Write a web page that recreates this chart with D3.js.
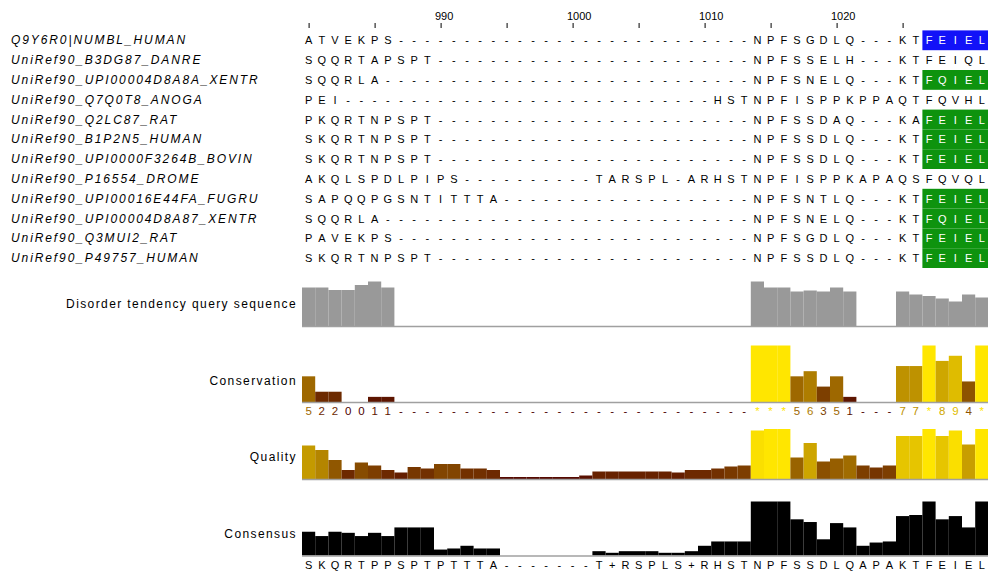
<!DOCTYPE html>
<html>
<head>
<meta charset="utf-8">
<script src="https://cdn.jsdelivr.net/npm/d3@7/dist/d3.min.js"></script>
<style>
  body { margin: 0; background: #fff; }
  svg { display: block; font-family: "Liberation Sans", Arial, sans-serif; }
</style>
</head>
<body>
<div id="aln"></div>
<script>
// alignment data, residues 980 - 1031
const startRes = 980;
const rulerTicks = [980, 985, 990, 995, 1000, 1005, 1010, 1015, 1020, 1025];
const rulerLabels = [990, 1000, 1010, 1020];

const names = [
  "Q9Y6R0|NUMBL_HUMAN",
  "UniRef90_B3DG87_DANRE",
  "UniRef90_UPI00004D8A8A_XENTR",
  "UniRef90_Q7Q0T8_ANOGA",
  "UniRef90_Q2LC87_RAT",
  "UniRef90_B1P2N5_HUMAN",
  "UniRef90_UPI0000F3264B_BOVIN",
  "UniRef90_P16554_DROME",
  "UniRef90_UPI00016E44FA_FUGRU",
  "UniRef90_UPI00004D8A87_XENTR",
  "UniRef90_Q3MUI2_RAT",
  "UniRef90_P49757_HUMAN"
];

const seqs = [
  "ATVEKPS" + "----------" + "----------" + "-------" + "NPFSGDLQ---KTFEIEL",
  "SQQRTAPSPT" + "----------" + "----------" + "----" + "NPFSSELH---KTFEIQL",
  "SQQRLA" + "----------" + "----------" + "--------" + "NPFSNELQ---KTFQIEL",
  "PEI" + "----------" + "----------" + "--------" + "HSTNPFISPPKPPAQTFQVHL",
  "PKQRTNPSPT" + "----------" + "----------" + "----" + "NPFSSDAQ---KAFEIEL",
  "SKQRTNPSPT" + "----------" + "----------" + "----" + "NPFSSDLQ---KTFEIEL",
  "SKQRTNPSPT" + "----------" + "----------" + "----" + "NPFSSDLQ---KTFEIEL",
  "AKQLSPDLPIPS" + "----------" + "TARSPL-ARHST" + "NPFISPPKAPAQSFQVQL",
  "SAPQQPGSNTITTTA" + "----------" + "---------" + "NPFSNTLQ---KTFEIEL",
  "SQQRLA" + "----------" + "----------" + "--------" + "NPFSNELQ---KTFQIEL",
  "PAVEKPS" + "----------" + "----------" + "-------" + "NPFSGDLQ---KTFEIEL",
  "SKQRTNPSPT" + "----------" + "----------" + "----" + "NPFSSDLQ---KTFEIEL"
];

// coloured block (residues 1027-1031) per row
const blockResidues = [1027, 1031];
const blockColour = ["#1212f8", null, "#0e930e", null, "#0e930e", "#0e930e",
                     "#0e930e", null, "#0e930e", "#0e930e", "#0e930e", "#0e930e"];

// annotation rows
const disorder = [0.77, 0.77, 0.72, 0.72, 0.82, 0.89, 0.77,
  null, null, null, null, null, null, null, null, null, null, null, null, null, null,
  null, null, null, null, null, null, null, null, null, null, null, null, null,
  0.89, 0.77, 0.77, 0.69, 0.71, 0.69, 0.77, 0.69,
  null, null, null,
  0.69, 0.63, 0.60, 0.55, 0.49, 0.63, 0.57];

const conservation = "5220011" + "----------" + "----------" + "-------" + "***56351---77*894*";

const quality = [67, 58, 38, 18, 33, 27, 18, 13, 24, 21, 30, 30, 21, 21, 18,
  4, 4, 4, 4, 4, 4, 7, 15, 15, 15, 15, 15, 15, 13, 18, 18, 21, 25, 27,
  97, 100, 100, 43, 72, 35, 41, 47, 27, 23, 27, 86, 86, 100, 86, 97, 69, 100];

const consensusSeq = "SKQRTPPSPTPTTTA" + "-------" + "T+RSPLS+RHST" + "NPFSSDLQAPAKTFEIEL";
const consensusPct = [44, 36, 44, 42, 36, 42, 36, 52, 52, 52, 11, 13, 18, 13, 13,
  0, 0, 0, 0, 0, 0, 0, 8, 5, 8, 8, 8, 5, 5, 8, 18, 26, 26, 26,
  100, 100, 100, 67, 62, 30, 60, 52, 18, 24, 26, 73, 75, 100, 67, 73, 52, 100];

const annLabels = ["Disorder tendency query sequence", "Conservation", "Quality", "Consensus"];

// layout
const width = 988, height = 574;
const nCols = seqs[0].length;
const colW = 13.2, alnLeft = 302;

const svg = d3.select("#aln").append("svg")
  .attr("width", width).attr("height", height)
  .attr("viewBox", [0, 0, width, height]);

const x = d3.scaleBand().domain(d3.range(nCols)).range([alnLeft, alnLeft + nCols * colW]);
const cx = i => x(i) + x.bandwidth() / 2;
const y = d3.scaleBand().domain(d3.range(names.length)).range([30.4, 30.4 + names.length * 19.8]);

// ruler
const res = d3.scaleLinear().domain([startRes, startRes + nCols - 1]).range([cx(0), cx(nCols - 1)]);
const ruler = svg.append("g")
  .attr("transform", "translate(0,28)")
  .call(d3.axisTop(res).tickValues(rulerTicks).tickSize(5).tickPadding(3)
    .tickFormat(d => rulerLabels.includes(d) ? d : ""));
ruler.select(".domain").remove();
ruler.selectAll(".tick line").attr("stroke", "#000");
ruler.selectAll(".tick text")
  .attr("font-size", 11).attr("font-family", "Liberation Sans, Arial, sans-serif")
  .attr("text-anchor", "start").attr("dx", -x.bandwidth() / 2 + 0.5);

// sequence names
svg.append("g").selectAll("text")
  .data(names).join("text")
  .attr("x", 11)
  .attr("y", (d, i) => y(i) + y.bandwidth() / 2 + 4)
  .attr("font-size", 12).attr("font-style", "italic")
  .attr("letter-spacing", 1.9)
  .text(d => d);

// coloured blocks
const b0 = blockResidues[0] - startRes, b1 = blockResidues[1] - startRes;
svg.append("g").selectAll("rect")
  .data(blockColour.map((c, i) => ({ c, i })).filter(d => d.c))
  .join("rect")
  .attr("x", x(b0))
  .attr("width", x(b1) + x.bandwidth() - x(b0))
  .attr("y", d => y(d.i))
  .attr("height", y.bandwidth())
  .attr("fill", d => d.c);

// residues
const cells = seqs.flatMap((s, r) => s.split("").map((ch, c) => ({ ch, r, c })));
svg.append("g").selectAll("text")
  .data(cells).join("text")
  .attr("x", d => cx(d.c))
  .attr("y", d => y(d.r) + y.bandwidth() / 2 + 4)
  .attr("text-anchor", "middle")
  .attr("font-size", 11)
  .attr("fill", d => (blockColour[d.r] && d.c >= b0 && d.c <= b1) ? "#fff" : "#000")
  .text(d => d.ch);

// annotation label helper
function label(txt, yy) {
  svg.append("text").attr("x", 297).attr("y", yy)
    .attr("text-anchor", "end").attr("font-size", 12)
    .attr("letter-spacing", 1.4)
    .text(txt);
}
function baseline(yy) {
  svg.append("line").attr("x1", alnLeft).attr("x2", width)
    .attr("y1", yy).attr("y2", yy)
    .attr("stroke", "#a0a0a0").attr("stroke-width", 1.6);
}
// jalview style brown -> yellow shading
const shade = p => d3.rgb(255 * (0.3 + 0.7 * p), 255 * 0.9 * p, 0);

// disorder
const yDis = d3.scaleLinear().domain([0, 1]).range([326, 276]);
svg.append("g").selectAll("rect")
  .data(disorder.map((v, i) => ({ v, i })).filter(d => d.v != null))
  .join("rect")
  .attr("x", d => x(d.i)).attr("width", x.bandwidth())
  .attr("y", d => yDis(d.v)).attr("height", d => yDis(0) - yDis(d.v))
  .attr("fill", "#999999");
baseline(326.5);
label(annLabels[0], 308);

// conservation
const consVal = ch => ch === "*" ? 11 : ch === "+" ? 10 : ch === "-" ? 0 : +ch;
const consData = conservation.split("").map((ch, i) => ({ ch, i, v: consVal(ch) }));
const yCons = d3.scaleLinear().domain([0, 11]).range([402, 345.5]);
svg.append("g").selectAll("rect")
  .data(consData.filter(d => d.v > 0))
  .join("rect")
  .attr("x", d => x(d.i)).attr("width", x.bandwidth())
  .attr("y", d => yCons(d.v)).attr("height", d => yCons(0) - yCons(d.v))
  .attr("fill", d => shade(d.v / 11));
baseline(402.5);
svg.append("g").selectAll("text")
  .data(consData).join("text")
  .attr("x", d => cx(d.i)).attr("y", 415)
  .attr("text-anchor", "middle").attr("font-size", 11.5)
  .attr("fill", d => shade(d.v / 11))
  .text(d => d.ch);
label(annLabels[1], 385);

// quality
const qMax = d3.max(quality);
const yQ = d3.scaleLinear().domain([0, qMax]).range([479, 429]);
svg.append("g").selectAll("rect")
  .data(quality.map((v, i) => ({ v, i })))
  .join("rect")
  .attr("x", d => x(d.i)).attr("width", x.bandwidth())
  .attr("y", d => yQ(d.v)).attr("height", d => yQ(0) - yQ(d.v))
  .attr("fill", d => shade(d.v / qMax));
baseline(479.5);
label(annLabels[2], 461);

// consensus
const yC = d3.scaleLinear().domain([0, 100]).range([555.5, 501.5]);
svg.append("g").selectAll("rect")
  .data(consensusPct.map((v, i) => ({ v, i })).filter(d => d.v > 0))
  .join("rect")
  .attr("x", d => x(d.i)).attr("width", x.bandwidth())
  .attr("y", d => yC(d.v)).attr("height", d => yC(0) - yC(d.v))
  .attr("fill", "#000");
baseline(556);
svg.append("g").selectAll("text")
  .data(consensusSeq.split("")).join("text")
  .attr("x", (d, i) => cx(i)).attr("y", 569)
  .attr("text-anchor", "middle").attr("font-size", 11)
  .text(d => d);
label(annLabels[3], 538);
</script>
</body>
</html>
